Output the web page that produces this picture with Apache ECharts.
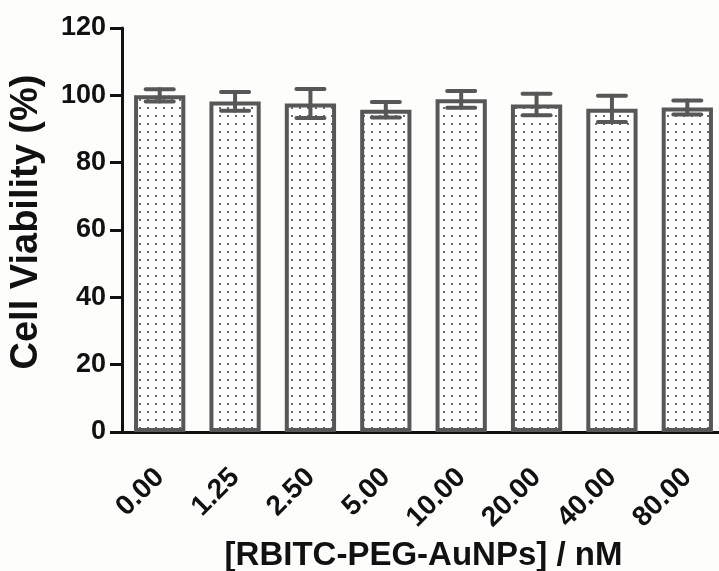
<!DOCTYPE html>
<html>
<head>
<meta charset="utf-8">
<script src="https://cdn.jsdelivr.net/npm/echarts@6/dist/echarts.min.js"></script>
<style>
  html, body { margin: 0; padding: 0; background: #fdfdfb; }
  #chart { width: 719px; height: 571px; }
</style>
</head>
<body>
<div id="chart"></div>
<script>
// Nanoparticle concentrations (nM)
const concentrations = ['0.00', '1.25', '2.50', '5.00', '10.00', '20.00', '40.00', '80.00'];
// Mean cell viability (%) and standard deviation
const viability = [100.0, 98.2, 97.6, 95.7, 98.8, 97.3, 96.0, 96.4];
const viabilitySD = [1.8, 2.8, 4.3, 2.3, 2.5, 3.2, 3.9, 2.1];
// Y axis ticks
const yTicks = [0, 20, 40, 60, 80, 100, 120];

const FONT = '"Liberation Sans", Arial, sans-serif';
const INK = '#111111';
const BAR_EDGE = '#575757';

// Stipple fill for the bars: small grey dots on white
function makeDotPattern() {
  const c = document.createElement('canvas');
  c.width = 8; c.height = 8;
  const ctx = c.getContext('2d');
  ctx.fillStyle = '#ffffff';
  ctx.fillRect(0, 0, 8, 8);
  ctx.fillStyle = '#6e6e6e';
  ctx.fillRect(3, 3, 2, 2);
  return c;
}

const errorData = viability.map((v, i) => [i, v - viabilitySD[i], v + viabilitySD[i]]);

const chart = echarts.init(document.getElementById('chart'), null, { renderer: 'canvas' });

chart.setOption({
  backgroundColor: '#fdfdfb',
  animation: false,
  // the category band runs slightly past the right edge of the canvas
  grid: { left: 122, top: 28, width: 603, height: 404, containLabel: false, outerBoundsMode: 'none' },
  xAxis: {
    type: 'category',
    data: concentrations,
    name: '[RBITC-PEG-AuNPs] / nM',
    nameLocation: 'middle',
    nameGap: 101,
    nameTextStyle: { fontFamily: FONT, fontWeight: 'bold', fontSize: 33, color: INK },
    axisLine: { lineStyle: { color: INK, width: 3 } },
    axisTick: { alignWithLabel: true, length: 14, lineStyle: { color: INK, width: 3 } },
    axisLabel: {
      rotate: 45, margin: 41, interval: 0,
      fontFamily: FONT, fontWeight: 'bold', fontSize: 28, color: INK
    }
  },
  yAxis: {
    type: 'value',
    min: yTicks[0],
    max: yTicks[yTicks.length - 1],
    interval: yTicks[1] - yTicks[0],
    name: 'Cell Viability (%)',
    nameLocation: 'middle',
    nameGap: 76,
    nameRotate: 90,
    nameTextStyle: { fontFamily: FONT, fontWeight: 'bold', fontSize: 38, color: INK, padding: [0, 0, 0, 16] },
    splitLine: { show: false },
    axisLine: { show: true, lineStyle: { color: INK, width: 3 } },
    axisTick: { show: true, length: 12, lineStyle: { color: INK, width: 3 } },
    axisLabel: { margin: 16, fontFamily: FONT, fontWeight: 'bold', fontSize: 27, color: INK }
  },
  series: [
    {
      type: 'bar',
      data: viability,
      barCategoryGap: '32%',
      itemStyle: {
        color: { image: makeDotPattern(), repeat: 'repeat' },
        borderColor: BAR_EDGE,
        borderWidth: 4
      },
      z: 2
    },
    {
      type: 'custom',
      data: errorData,
      z: 3,
      renderItem: function (params, api) {
        const x = api.value(0);
        const lo = api.coord([x, api.value(1)]);
        const hi = api.coord([x, api.value(2)]);
        const half = 14;
        const style = { stroke: BAR_EDGE, lineWidth: 4, lineCap: 'round' };
        return {
          type: 'group',
          children: [
            { type: 'line', shape: { x1: hi[0], y1: hi[1], x2: lo[0], y2: lo[1] }, style: style },
            { type: 'line', shape: { x1: hi[0] - half, y1: hi[1], x2: hi[0] + half, y2: hi[1] }, style: style },
            { type: 'line', shape: { x1: lo[0] - half, y1: lo[1], x2: lo[0] + half, y2: lo[1] }, style: style }
          ]
        };
      }
    }
  ]
});
</script>
</body>
</html>
